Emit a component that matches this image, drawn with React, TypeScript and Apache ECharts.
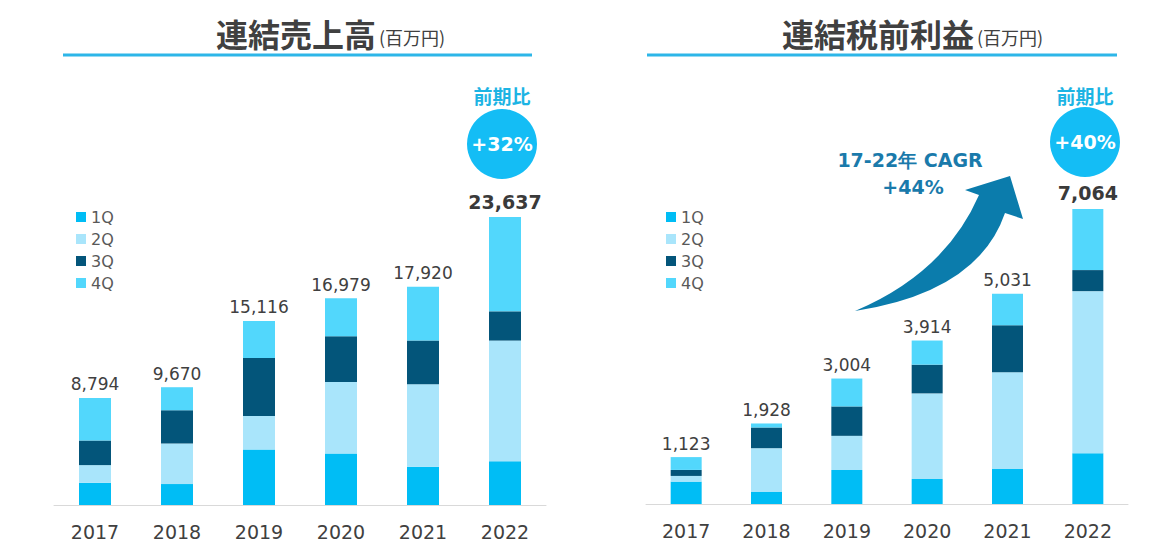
import React, { useEffect, useRef } from "react";
import * as echarts from "echarts";

const years = ["2017", "2018", "2019", "2020", "2021", "2022"];
const quarterNames = ["1Q", "2Q", "3Q", "4Q"];
const quarterColors = ["#00bdf5", "#a9e5fb", "#03557a", "#52d7fc"];

const salesQ1 = [1825, 1720, 4560, 4230, 3140, 3600];
const salesQ2 = [1450, 3330, 2750, 5860, 6770, 9900];
const salesQ3 = [2020, 2730, 4750, 3770, 3600, 2400];
const salesQ4 = [3499, 1890, 3056, 3119, 4410, 7737];
const salesTotal = [8794, 9670, 15116, 16979, 17920, 23637];

const profitQ1 = [536, 296, 816, 600, 840, 1216];
const profitQ2 = [136, 1040, 816, 2048, 2312, 3880];
const profitQ3 = [144, 496, 704, 688, 1128, 504];
const profitQ4 = [307, 96, 668, 578, 751, 1464];
const profitTotal = [1123, 1928, 3004, 3914, 5031, 7064];

const salesTitle = "連結売上高";
const profitTitle = "連結税前利益";
const unitText = "(百万円)";
const yoyLabel = "前期比";
const salesYoY = "+32%";
const profitYoY = "+40%";
const cagrLine1 = "17-22年 CAGR";
const cagrLine2 = "+44%";

const ARROW_D =
  "M 855 311 Q 978 292 1005 213 L 1023 219 L 1010 176 L 965 190 L 979 195 Q 945 273 855 311 Z";
echarts.graphic.registerShape("cagrArrow", echarts.graphic.extendPath(ARROW_D, {}));

const NUM_FONT = '"DejaVu Sans", Verdana, sans-serif';
const CJK_FONT = '"Noto Sans CJK JP", "Noto Sans", sans-serif';
const TEXT_DARK = "#404040";

function fmt(n: number) {
  return n.toLocaleString("en-US");
}

function makeSeries(
  quarters: number[][],
  totals: number[],
  axisIndex: number,
  stack: string,
  barWidth: number
) {
  return quarters.map((vals, qi) => ({
    name: quarterNames[qi],
    type: "bar",
    stack,
    xAxisIndex: axisIndex,
    yAxisIndex: axisIndex,
    barWidth,
    itemStyle: { color: quarterColors[qi] },
    emphasis: { disabled: true },
    data:
      qi === 3
        ? vals.map((v, i) => {
            const last = i === vals.length - 1;
            return {
              value: v,
              label: {
                show: true,
                position: "top",
                distance: last ? 6 : 5,
                formatter: fmt(totals[i]),
                color: last ? "#3a3a3a" : TEXT_DARK,
                fontFamily: NUM_FONT,
                fontSize: last ? 19 : 17,
                fontWeight: last ? "bold" : "normal",
              },
            };
          })
        : vals,
  }));
}

function centerText(x: number, y: number, text: string, font: string, fill: string) {
  return {
    type: "text",
    x,
    y,
    style: {
      text,
      font,
      fill,
      align: "center",
      verticalAlign: "middle",
      textAlign: "center",
      textVerticalAlign: "middle",
    },
  };
}

function titleText(x: number, y: number, title: string) {
  return {
    type: "text",
    x,
    y,
    style: {
      text: `{a|${title}}{b|${unitText}}`,
      verticalAlign: "middle",
      textVerticalAlign: "middle",
      rich: {
        a: { fontFamily: CJK_FONT, fontSize: 32, fontWeight: "bold", fill: TEXT_DARK, color: TEXT_DARK },
        b: { fontFamily: CJK_FONT, fontSize: 18, fill: TEXT_DARK, color: TEXT_DARK, padding: [8, 0, 0, 3] },
      },
    },
  };
}

export default function App() {
  const ref = useRef<HTMLDivElement>(null);

  useEffect(() => {
    if (!ref.current) return;
    const chart = echarts.init(ref.current, null, { renderer: "svg" });

    const xAxisBase = {
      type: "category",
      data: years,
      axisLine: { lineStyle: { color: "#d9d9d9", width: 1 } },
      axisTick: { show: false },
      axisLabel: { color: TEXT_DARK, fontSize: 19, fontFamily: NUM_FONT, margin: 17 },
    };
    const yAxisBase = {
      type: "value",
      min: 0,
      show: false,
      splitLine: { show: false },
    };
    const legendBase = {
      data: quarterNames,
      orient: "vertical",
      top: 204,
      itemWidth: 10,
      itemHeight: 10,
      itemGap: 6,
      icon: "rect",
      selectedMode: false,
      textStyle: { fontSize: 16, color: "#595959", fontFamily: NUM_FONT, lineHeight: 16 },
    };

    chart.setOption({
      animation: false,
      backgroundColor: "#ffffff",
      grid: [
        { left: 54, top: 139.6, width: 492, height: 365.4 },
        { left: 646, top: 128.1, width: 482, height: 375.9 },
      ],
      xAxis: [
        { ...xAxisBase, gridIndex: 0 },
        { ...xAxisBase, gridIndex: 1 },
      ],
      yAxis: [
        { ...yAxisBase, gridIndex: 0, max: 30000 },
        { ...yAxisBase, gridIndex: 1, max: 9000 },
      ],
      legend: [
        { ...legendBase, left: 71 },
        { ...legendBase, left: 661 },
      ],
      series: [
        ...makeSeries([salesQ1, salesQ2, salesQ3, salesQ4], salesTotal, 0, "sales", 32),
        ...makeSeries([profitQ1, profitQ2, profitQ3, profitQ4], profitTotal, 1, "profit", 31),
      ],
      graphic: [
        titleText(216, 33, salesTitle),
        titleText(782, 33, profitTitle),
        { type: "line", shape: { x1: 63, y1: 55, x2: 532, y2: 55 }, style: { stroke: "#2db6e8", lineWidth: 3 } },
        { type: "line", shape: { x1: 647, y1: 55, x2: 1117, y2: 55 }, style: { stroke: "#2db6e8", lineWidth: 3 } },
        centerText(502, 95, yoyLabel, `bold 19px ${CJK_FONT}`, "#1cb4e4"),
        { type: "circle", shape: { cx: 502, cy: 144, r: 35 }, style: { fill: "#14bdf5" } },
        centerText(502, 144, salesYoY, `bold 19px ${NUM_FONT}`, "#ffffff"),
        centerText(1085, 95, yoyLabel, `bold 19px ${CJK_FONT}`, "#1cb4e4"),
        { type: "circle", shape: { cx: 1085, cy: 142, r: 35 }, style: { fill: "#14bdf5" } },
        centerText(1085, 142, profitYoY, `bold 19px ${NUM_FONT}`, "#ffffff"),
        { type: "cagrArrow", x: 0, y: 0, style: { fill: "#0b7cac" } },
        centerText(910, 160, cagrLine1, `bold 19px ${NUM_FONT}`, "#1a7aab"),
        centerText(913, 187, cagrLine2, `bold 19px ${NUM_FONT}`, "#1a7aab"),
      ],
    });

    return () => chart.dispose();
  }, []);

  return (
    <div
      ref={ref}
      style={{ position: "fixed", left: 0, top: 0, width: 1176, height: 558, background: "#fff" }}
    />
  );
}
